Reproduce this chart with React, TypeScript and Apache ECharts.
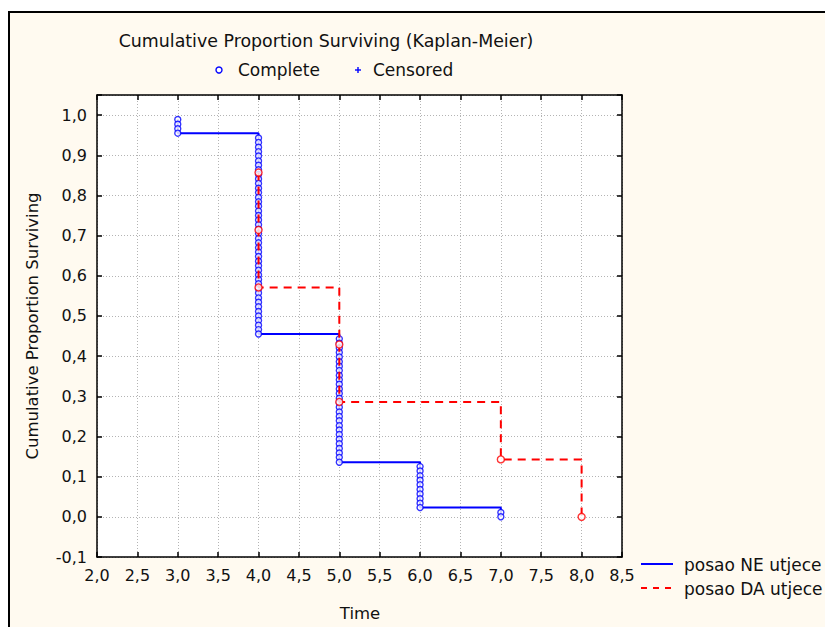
import React, { useEffect, useRef } from "react";
import * as echarts from "echarts";

const chartTitle = "Cumulative Proportion Surviving (Kaplan-Meier)";
const xAxisTitle = "Time";
const yAxisTitle = "Cumulative Proportion Surviving";
const groupNames = ["posao NE utjece", "posao DA utjece"];
const markerLegend = ["Complete", "Censored"];

const xMin = 2;
const xMax = 8.5;
const xStep = 0.5;
const yMin = -0.1;
const yMax = 1.05;
const yStep = 0.1;

// Group "posao NE utjece" (blue, solid)
const neStart = 0.989;
const neTimes = [3, 4, 5, 6, 7];
const neLevels = [0.955, 0.455, 0.136, 0.023, 0.0];
const neMarks = [
  [0.989, 0.977, 0.966, 0.955],
  [
    0.943, 0.932, 0.92, 0.909, 0.898, 0.886, 0.875, 0.864, 0.852, 0.841, 0.83,
    0.818, 0.807, 0.795, 0.784, 0.773, 0.761, 0.75, 0.739, 0.727, 0.716, 0.705,
    0.693, 0.682, 0.67, 0.659, 0.648, 0.636, 0.625, 0.614, 0.602, 0.591, 0.58,
    0.568, 0.557, 0.545, 0.534, 0.523, 0.511, 0.5, 0.489, 0.477, 0.466, 0.455,
  ],
  [
    0.443, 0.432, 0.42, 0.409, 0.398, 0.386, 0.375, 0.364, 0.352, 0.341, 0.33,
    0.318, 0.307, 0.295, 0.284, 0.273, 0.261, 0.25, 0.239, 0.227, 0.216, 0.205,
    0.193, 0.182, 0.17, 0.159, 0.148, 0.136,
  ],
  [0.125, 0.114, 0.102, 0.091, 0.08, 0.068, 0.057, 0.045, 0.034, 0.023],
  [0.011, 0.0],
];

// Group "posao DA utjece" (red, dashed)
const daStart = 0.857;
const daTimes = [4, 5, 7, 8];
const daLevels = [0.571, 0.286, 0.143, 0.0];
const daMarks = [[0.857, 0.714, 0.571], [0.429, 0.286], [0.143], [0.0]];

const BLUE = "#0000ff";
const RED = "#ff0000";
const TEXT = "#111111";
const FONT = "DejaVu Sans";
const FS = 16;

function stepPoints(start: number, times: number[], levels: number[]) {
  const pts: number[][] = [[times[0], start]];
  for (let i = 0; i < times.length; i++) {
    pts.push([times[i], levels[i]]);
    if (i < times.length - 1) pts.push([times[i + 1], levels[i]]);
  }
  return pts;
}

function markPoints(times: number[], marks: number[][]) {
  const pts: number[][] = [];
  times.forEach((t, i) => marks[i].forEach((v) => pts.push([t, v])));
  return pts;
}

const fmt = (v: number) => v.toFixed(1).replace(".", ",");

export default function App() {
  const ref = useRef<HTMLDivElement>(null);
  useEffect(() => {
    if (!ref.current) return;
    const chart = echarts.init(ref.current, null, { renderer: "svg" });
    const tickStyle = { inside: true, length: 5, lineStyle: { color: "#000", width: 1.5 } };
    const lineStyle = { onZero: false, lineStyle: { color: "#000", width: 1.5 } };
    const split = { show: true, lineStyle: { color: "#b4b4b4", type: [1, 2], width: 1 } };
    const labelBase = { color: TEXT, fontFamily: FONT, fontSize: FS, margin: 10 };
    const txt = (text: string, x: number, y: number, size: number, align = "left", extra: any = {}) => ({
      type: "text",
      x,
      y,
      ...extra,
      style: {
        text,
        fill: TEXT,
        font: `${size}px "${FONT}"`,
        textAlign: align,
        textVerticalAlign: "middle",
      },
    });
    chart.setOption({
      animation: false,
      backgroundColor: "#ffffff",
      grid: {
        left: 97,
        right: 203,
        top: 95,
        bottom: 70,
        show: true,
        backgroundColor: "#ffffff",
        borderWidth: 0,
      },
      xAxis: [
        {
          type: "value",
          min: xMin,
          max: xMax,
          interval: xStep,
          position: "bottom",
          axisLine: lineStyle,
          axisTick: tickStyle,
          splitLine: split,
          axisLabel: { ...labelBase, formatter: (v: number) => fmt(v) },
        },
        {
          type: "value",
          min: xMin,
          max: xMax,
          interval: xStep,
          position: "top",
          axisLine: lineStyle,
          axisTick: tickStyle,
          splitLine: { show: false },
          axisLabel: { show: false },
        },
      ],
      yAxis: [
        {
          type: "value",
          min: yMin,
          max: yMax,
          interval: yStep,
          position: "left",
          axisLine: lineStyle,
          axisTick: tickStyle,
          splitLine: split,
          axisLabel: {
            ...labelBase,
            formatter: (v: number) => (v > 1.01 ? "" : fmt(v)),
          },
        },
        {
          type: "value",
          min: yMin,
          max: yMax,
          interval: yStep,
          position: "right",
          axisLine: lineStyle,
          axisTick: tickStyle,
          splitLine: { show: false },
          axisLabel: { show: false },
        },
      ],
      series: [
        {
          name: groupNames[0],
          type: "line",
          data: stepPoints(neStart, neTimes, neLevels),
          symbol: "none",
          lineStyle: { color: BLUE, width: 2 },
          z: 3,
          silent: true,
        },
        {
          name: groupNames[0] + " complete",
          type: "scatter",
          data: markPoints(neTimes, neMarks),
          symbol: "circle",
          symbolSize: 6,
          itemStyle: { color: "#ffffff", borderColor: BLUE, borderWidth: 1.4 },
          z: 4,
          silent: true,
        },
        {
          name: groupNames[1],
          type: "line",
          data: stepPoints(daStart, daTimes, daLevels),
          symbol: "none",
          lineStyle: { color: RED, width: 2, type: [8, 6] },
          z: 5,
          silent: true,
        },
        {
          name: groupNames[1] + " complete",
          type: "scatter",
          data: markPoints(daTimes, daMarks),
          symbol: "circle",
          symbolSize: 7,
          itemStyle: { color: "#ffffff", borderColor: RED, borderWidth: 1.4 },
          z: 6,
          silent: true,
        },
      ],
      graphic: {
        elements: [
          {
            type: "rect",
            z: -100,
            silent: true,
            shape: { x: 9, y: 12, width: 900, height: 700 },
            style: { fill: "#fffaf0", stroke: "#000", lineWidth: 2 },
          },
          txt(chartTitle, 326, 41, 17.4, "center"),
          {
            type: "circle",
            shape: { cx: 219, cy: 70, r: 3 },
            style: { fill: "#fff", stroke: BLUE, lineWidth: 1.4 },
          },
          txt(markerLegend[0], 238, 70, 17),
          {
            type: "line",
            shape: { x1: 355, y1: 70, x2: 361, y2: 70 },
            style: { stroke: BLUE, lineWidth: 1.4 },
          },
          {
            type: "line",
            shape: { x1: 358, y1: 67, x2: 358, y2: 73 },
            style: { stroke: BLUE, lineWidth: 1.4 },
          },
          txt(markerLegend[1], 373, 70, 17),
          txt(yAxisTitle, 32, 326, 16.5, "center", { rotation: Math.PI / 2 }),
          txt(xAxisTitle, 360, 613, 16.5, "center"),
          {
            type: "line",
            shape: { x1: 641, y1: 564, x2: 673, y2: 564 },
            style: { stroke: BLUE, lineWidth: 2 },
          },
          txt(groupNames[0], 684, 565, 17),
          {
            type: "line",
            shape: { x1: 641, y1: 588, x2: 673, y2: 588 },
            style: { stroke: RED, lineWidth: 2, lineDash: [6, 6] },
          },
          txt(groupNames[1], 684, 589, 17),
        ],
      },
    });
    return () => chart.dispose();
  }, []);
  return (
    <div
      ref={ref}
      style={{ position: "fixed", left: 0, top: 0, width: 825, height: 627 }}
    />
  );
}
